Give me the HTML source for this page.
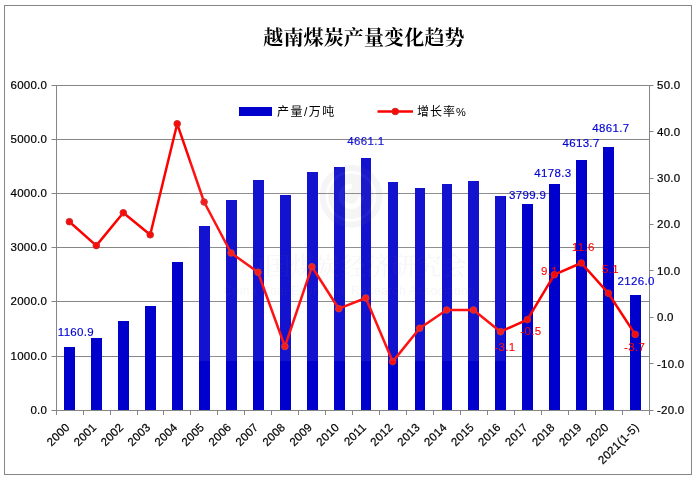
<!DOCTYPE html>
<html lang="zh-CN"><head><meta charset="utf-8"><title>越南煤炭产量变化趋势</title>
<style>html,body{margin:0;padding:0;background:#fff;}body{width:699px;height:483px;overflow:hidden;}svg{display:block;}text{font-family:"Liberation Sans", "Noto Sans CJK SC", sans-serif;font-size:11.5px;letter-spacing:0.25px;fill:#000;}.t{font-family:"Liberation Serif","Noto Serif CJK SC",serif;font-weight:bold;font-size:20px;letter-spacing:0.13px;}.b{fill:#0000D4;stroke:#0000D4;stroke-width:0.15px;letter-spacing:0.32px;}.r{fill:#FF0000;stroke:#FF0000;stroke-width:0.1px;letter-spacing:0.32px;}text{stroke:#000;stroke-width:0.2px;}.w text,text.t,text.l{stroke:none;}</style></head><body>
<svg width="699" height="483" viewBox="0 0 699 483">
<rect x="0" y="0" width="699" height="483" fill="#fff"/>
<rect x="4.5" y="5.5" width="687" height="469" fill="none" stroke="#868686" stroke-width="1"/>
<line x1="51.5" y1="85.5" x2="649.5" y2="85.5" stroke="#868686" stroke-width="1"/>
<line x1="51.5" y1="139.5" x2="649.5" y2="139.5" stroke="#868686" stroke-width="1"/>
<line x1="51.5" y1="193.5" x2="649.5" y2="193.5" stroke="#868686" stroke-width="1"/>
<line x1="51.5" y1="247.5" x2="649.5" y2="247.5" stroke="#868686" stroke-width="1"/>
<line x1="51.5" y1="301.5" x2="649.5" y2="301.5" stroke="#868686" stroke-width="1"/>
<line x1="51.5" y1="356.5" x2="649.5" y2="356.5" stroke="#868686" stroke-width="1"/>
<line x1="51.5" y1="410.5" x2="649.5" y2="410.5" stroke="#868686" stroke-width="1"/>
<rect x="64" y="347.0" width="11" height="63.0" fill="#0000CC"/>
<rect x="91" y="338.0" width="11" height="72.0" fill="#0000CC"/>
<rect x="118" y="321.0" width="11" height="89.0" fill="#0000CC"/>
<rect x="145" y="306.0" width="11" height="104.0" fill="#0000CC"/>
<rect x="172" y="262.0" width="11" height="148.0" fill="#0000CC"/>
<rect x="199" y="226.0" width="11" height="184.0" fill="#0000CC"/>
<rect x="226" y="200.0" width="11" height="210.0" fill="#0000CC"/>
<rect x="253" y="180.0" width="11" height="230.0" fill="#0000CC"/>
<rect x="280" y="195.0" width="11" height="215.0" fill="#0000CC"/>
<rect x="307" y="172.0" width="11" height="238.0" fill="#0000CC"/>
<rect x="334" y="167.0" width="11" height="243.0" fill="#0000CC"/>
<rect x="361" y="158.0" width="10" height="252.0" fill="#0000CC"/>
<rect x="388" y="182.0" width="10" height="228.0" fill="#0000CC"/>
<rect x="415" y="188.0" width="10" height="222.0" fill="#0000CC"/>
<rect x="442" y="184.0" width="10" height="226.0" fill="#0000CC"/>
<rect x="468" y="181.0" width="11" height="229.0" fill="#0000CC"/>
<rect x="495" y="196.0" width="11" height="214.0" fill="#0000CC"/>
<rect x="522" y="204.0" width="11" height="206.0" fill="#0000CC"/>
<rect x="549" y="184.0" width="11" height="226.0" fill="#0000CC"/>
<rect x="576" y="160.0" width="11" height="250.0" fill="#0000CC"/>
<rect x="603" y="147.0" width="11" height="263.0" fill="#0000CC"/>
<rect x="630" y="295.0" width="11" height="115.0" fill="#0000CC"/>
<line x1="56.5" y1="85.0" x2="56.5" y2="410.5" stroke="#868686"/>
<line x1="649.5" y1="85.0" x2="649.5" y2="410.5" stroke="#868686"/>
<line x1="56.5" y1="410.0" x2="56.5" y2="415.0" stroke="#868686"/>
<line x1="83.5" y1="410.0" x2="83.5" y2="415.0" stroke="#868686"/>
<line x1="110.5" y1="410.0" x2="110.5" y2="415.0" stroke="#868686"/>
<line x1="137.5" y1="410.0" x2="137.5" y2="415.0" stroke="#868686"/>
<line x1="163.5" y1="410.0" x2="163.5" y2="415.0" stroke="#868686"/>
<line x1="190.5" y1="410.0" x2="190.5" y2="415.0" stroke="#868686"/>
<line x1="217.5" y1="410.0" x2="217.5" y2="415.0" stroke="#868686"/>
<line x1="244.5" y1="410.0" x2="244.5" y2="415.0" stroke="#868686"/>
<line x1="271.5" y1="410.0" x2="271.5" y2="415.0" stroke="#868686"/>
<line x1="298.5" y1="410.0" x2="298.5" y2="415.0" stroke="#868686"/>
<line x1="325.5" y1="410.0" x2="325.5" y2="415.0" stroke="#868686"/>
<line x1="352.5" y1="410.0" x2="352.5" y2="415.0" stroke="#868686"/>
<line x1="379.5" y1="410.0" x2="379.5" y2="415.0" stroke="#868686"/>
<line x1="406.5" y1="410.0" x2="406.5" y2="415.0" stroke="#868686"/>
<line x1="433.5" y1="410.0" x2="433.5" y2="415.0" stroke="#868686"/>
<line x1="460.5" y1="410.0" x2="460.5" y2="415.0" stroke="#868686"/>
<line x1="487.5" y1="410.0" x2="487.5" y2="415.0" stroke="#868686"/>
<line x1="514.5" y1="410.0" x2="514.5" y2="415.0" stroke="#868686"/>
<line x1="541.5" y1="410.0" x2="541.5" y2="415.0" stroke="#868686"/>
<line x1="568.5" y1="410.0" x2="568.5" y2="415.0" stroke="#868686"/>
<line x1="595.5" y1="410.0" x2="595.5" y2="415.0" stroke="#868686"/>
<line x1="622.5" y1="410.0" x2="622.5" y2="415.0" stroke="#868686"/>
<line x1="649.5" y1="410.0" x2="649.5" y2="415.0" stroke="#868686"/>
<line x1="649.5" y1="85.5" x2="653.5" y2="85.5" stroke="#868686"/>
<line x1="649.5" y1="131.5" x2="653.5" y2="131.5" stroke="#868686"/>
<line x1="649.5" y1="178.5" x2="653.5" y2="178.5" stroke="#868686"/>
<line x1="649.5" y1="224.5" x2="653.5" y2="224.5" stroke="#868686"/>
<line x1="649.5" y1="270.5" x2="653.5" y2="270.5" stroke="#868686"/>
<line x1="649.5" y1="317.5" x2="653.5" y2="317.5" stroke="#868686"/>
<line x1="649.5" y1="363.5" x2="653.5" y2="363.5" stroke="#868686"/>
<line x1="649.5" y1="410.5" x2="653.5" y2="410.5" stroke="#868686"/>
<text x="47.2" y="89.1" text-anchor="end">6000.0</text>
<text x="47.2" y="143.1" text-anchor="end">5000.0</text>
<text x="47.2" y="197.1" text-anchor="end">4000.0</text>
<text x="47.2" y="251.1" text-anchor="end">3000.0</text>
<text x="47.2" y="305.1" text-anchor="end">2000.0</text>
<text x="47.2" y="360.1" text-anchor="end">1000.0</text>
<text x="47.2" y="414.1" text-anchor="end">0.0</text>
<text x="657" y="88.9">50.0</text>
<text x="657" y="135.7">40.0</text>
<text x="657" y="181.9">30.0</text>
<text x="657" y="227.9">20.0</text>
<text x="657" y="274.9">10.0</text>
<text x="657" y="320.5">0.0</text>
<text x="657" y="368.0">-10.0</text>
<text x="657" y="414.0">-20.0</text>
<text transform="translate(64.7,422.3) rotate(-45)" text-anchor="end" x="0" y="8">2000</text>
<text transform="translate(91.6,422.3) rotate(-45)" text-anchor="end" x="0" y="8">2001</text>
<text transform="translate(118.6,422.3) rotate(-45)" text-anchor="end" x="0" y="8">2002</text>
<text transform="translate(145.5,422.3) rotate(-45)" text-anchor="end" x="0" y="8">2003</text>
<text transform="translate(172.5,422.3) rotate(-45)" text-anchor="end" x="0" y="8">2004</text>
<text transform="translate(199.4,422.3) rotate(-45)" text-anchor="end" x="0" y="8">2005</text>
<text transform="translate(226.4,422.3) rotate(-45)" text-anchor="end" x="0" y="8">2006</text>
<text transform="translate(253.4,422.3) rotate(-45)" text-anchor="end" x="0" y="8">2007</text>
<text transform="translate(280.3,422.3) rotate(-45)" text-anchor="end" x="0" y="8">2008</text>
<text transform="translate(307.3,422.3) rotate(-45)" text-anchor="end" x="0" y="8">2009</text>
<text transform="translate(334.2,422.3) rotate(-45)" text-anchor="end" x="0" y="8">2010</text>
<text transform="translate(361.2,422.3) rotate(-45)" text-anchor="end" x="0" y="8">2011</text>
<text transform="translate(388.1,422.3) rotate(-45)" text-anchor="end" x="0" y="8">2012</text>
<text transform="translate(415.1,422.3) rotate(-45)" text-anchor="end" x="0" y="8">2013</text>
<text transform="translate(442.0,422.3) rotate(-45)" text-anchor="end" x="0" y="8">2014</text>
<text transform="translate(469.0,422.3) rotate(-45)" text-anchor="end" x="0" y="8">2015</text>
<text transform="translate(495.9,422.3) rotate(-45)" text-anchor="end" x="0" y="8">2016</text>
<text transform="translate(522.9,422.3) rotate(-45)" text-anchor="end" x="0" y="8">2017</text>
<text transform="translate(549.9,422.3) rotate(-45)" text-anchor="end" x="0" y="8">2018</text>
<text transform="translate(576.8,422.3) rotate(-45)" text-anchor="end" x="0" y="8">2019</text>
<text transform="translate(603.8,422.3) rotate(-45)" text-anchor="end" x="0" y="8">2020</text>
<text transform="translate(633.9,422.3) rotate(-45)" text-anchor="end" x="0" y="8">2021(1-5)</text>
<polyline points="69.4,221.7 96.3,245.6 123.3,212.8 150.2,234.8 177.2,123.8 204.1,202.0 231.1,253.0 258.0,272.2 284.9,346.5 311.9,266.8 338.8,308.7 365.8,298.0 392.7,361.6 419.7,328.2 446.6,310.0 473.5,310.0 500.5,331.7 527.4,319.6 554.4,274.7 581.3,263.0 608.3,293.2 635.2,334.4" fill="none" stroke="#FF0000" stroke-width="2.5" stroke-linejoin="round" stroke-linecap="round"/>
<circle cx="69.4" cy="221.7" r="3.3" fill="#FF0808" stroke="#C43030" stroke-width="1"/>
<circle cx="96.3" cy="245.6" r="3.3" fill="#FF0808" stroke="#C43030" stroke-width="1"/>
<circle cx="123.3" cy="212.8" r="3.3" fill="#FF0808" stroke="#C43030" stroke-width="1"/>
<circle cx="150.2" cy="234.8" r="3.3" fill="#FF0808" stroke="#C43030" stroke-width="1"/>
<circle cx="177.2" cy="123.8" r="3.3" fill="#FF0808" stroke="#C43030" stroke-width="1"/>
<circle cx="204.1" cy="202.0" r="3.3" fill="#FF0808" stroke="#C43030" stroke-width="1"/>
<circle cx="231.1" cy="253.0" r="3.3" fill="#FF0808" stroke="#C43030" stroke-width="1"/>
<circle cx="258.0" cy="272.2" r="3.3" fill="#FF0808" stroke="#C43030" stroke-width="1"/>
<circle cx="284.9" cy="346.5" r="3.3" fill="#FF0808" stroke="#C43030" stroke-width="1"/>
<circle cx="311.9" cy="266.8" r="3.3" fill="#FF0808" stroke="#C43030" stroke-width="1"/>
<circle cx="338.8" cy="308.7" r="3.3" fill="#FF0808" stroke="#C43030" stroke-width="1"/>
<circle cx="365.8" cy="298.0" r="3.3" fill="#FF0808" stroke="#C43030" stroke-width="1"/>
<circle cx="392.7" cy="361.6" r="3.3" fill="#FF0808" stroke="#C43030" stroke-width="1"/>
<circle cx="419.7" cy="328.2" r="3.3" fill="#FF0808" stroke="#C43030" stroke-width="1"/>
<circle cx="446.6" cy="310.0" r="3.3" fill="#FF0808" stroke="#C43030" stroke-width="1"/>
<circle cx="473.5" cy="310.0" r="3.3" fill="#FF0808" stroke="#C43030" stroke-width="1"/>
<circle cx="500.5" cy="331.7" r="3.3" fill="#FF0808" stroke="#C43030" stroke-width="1"/>
<circle cx="527.4" cy="319.6" r="3.3" fill="#FF0808" stroke="#C43030" stroke-width="1"/>
<circle cx="554.4" cy="274.7" r="3.3" fill="#FF0808" stroke="#C43030" stroke-width="1"/>
<circle cx="581.3" cy="263.0" r="3.3" fill="#FF0808" stroke="#C43030" stroke-width="1"/>
<circle cx="608.3" cy="293.2" r="3.3" fill="#FF0808" stroke="#C43030" stroke-width="1"/>
<circle cx="635.2" cy="334.4" r="3.3" fill="#FF0808" stroke="#C43030" stroke-width="1"/>
<rect x="239" y="107" width="33" height="9" fill="#0000CC"/>
<text class="l" x="277" y="116.4" style="font-size:12px;letter-spacing:1.45px">产量/万吨</text>
<line x1="377.5" y1="111.5" x2="413" y2="111.5" stroke="#FF0000" stroke-width="2.6"/>
<circle cx="395.3" cy="111.5" r="3.3" fill="#FF0808" stroke="#C43030" stroke-width="1"/>
<text class="l" x="417" y="116.4" style="font-size:12px"><tspan style="letter-spacing:1px">增长率</tspan><tspan style="font-size:11px">%</tspan></text>
<text class="t" x="364" y="45" text-anchor="middle">越南煤炭产量变化趋势</text>
<text class="b" x="57.8" y="335.7">1160.9</text>
<text class="b" x="347.3" y="145.4">4661.1</text>
<text class="b" x="509.0" y="199.3">3799.9</text>
<text class="b" x="534.3" y="177.1">4178.3</text>
<text class="b" x="562.5" y="146.5">4613.7</text>
<text class="b" x="592.3" y="132.1">4861.7</text>
<text class="b" x="617.6" y="284.8">2126.0</text>
<text class="r" x="494.3" y="350.6">-3.1</text>
<text class="r" x="520.3" y="335.4">-0.5</text>
<text class="r" x="541.0" y="274.8">9.1</text>
<text class="r" x="572.0" y="250.5">11.6</text>
<text class="r" x="602.0" y="273.2">5.1</text>
<text class="r" x="624.0" y="351.2">-3.7</text>
<g class="w" opacity="0.07" fill="#808080"><circle cx="351" cy="196.3" r="31.5"/><circle cx="351" cy="196.3" r="24" fill="none" stroke="#fff" stroke-width="2.5"/><circle cx="351" cy="196.3" r="10" fill="none" stroke="#fff" stroke-width="5" stroke-dasharray="48 15"/><text x="353.5" y="275.2" text-anchor="middle" style="font-family:'Liberation Serif','Noto Serif CJK SC',serif;font-size:25px;fill:#808080">中国煤炭经济研究会</text><text x="349.3" y="295" text-anchor="middle" style="font-size:12.4px;fill:#808080">China Coal Economic Research Association</text></g>
<rect x="190" y="140" width="315" height="221" fill="#fff" opacity="0.07"/>
</svg></body></html>
